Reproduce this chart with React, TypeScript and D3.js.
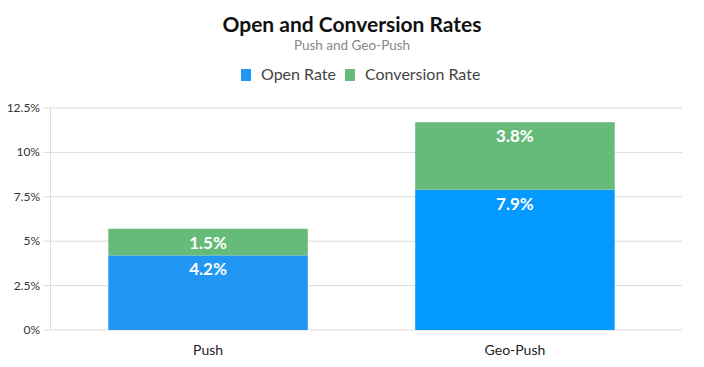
import * as d3 from "d3";
import { useEffect, useRef } from "react";

const categories = ["Push", "Geo-Push"];
const seriesNames = ["Open Rate", "Conversion Rate"];
const openRate = [4.2, 7.9];
const conversionRate = [1.5, 3.8];
const yTicks = [0, 2.5, 5, 7.5, 10, 12.5];

const openColors = ["#2196F3", "#0399FE"];
const convColor = "#66BB7A";
const legendColors = ["#2196F3", "#66BB7A"];

const W = 704;
const H = 367;

export default function App() {
  const ref = useRef<SVGSVGElement>(null);

  useEffect(() => {
    const svg = d3.select(ref.current);
    svg.selectAll("*").remove();
    const font = "Lato, 'Open Sans', sans-serif";

    const x = d3.scaleBand().domain(categories).range([50, 673]).paddingInner(0.35).paddingOuter(0.19);
    const y = d3.scaleLinear().domain([0, 12.5]).range([330, 108]);

    // title
    svg.append("text").attr("x", 352).attr("y", 32).attr("text-anchor", "middle")
      .style("font-family", font).style("font-size", "21px").style("font-weight", 700)
      .attr("fill", "#111").text("Open and Conversion Rates");
    svg.append("text").attr("x", 352).attr("y", 50).attr("text-anchor", "middle")
      .style("font-family", font).style("font-size", "13.5px")
      .attr("fill", "#888").text("Push and Geo-Push");

    // legend
    const lg = svg.append("g").style("font-family", font).style("font-size", "16px");
    let lx = 241;
    seriesNames.forEach((name, i) => {
      lg.append("rect").attr("x", lx).attr("y", 69).attr("width", 10).attr("height", 12).attr("fill", legendColors[i]);
      const t = lg.append("text").attr("x", lx + 20).attr("y", 80).attr("fill", "#444").text(name);
      const w = (t.node() as SVGTextElement).getComputedTextLength();
      lx += 20 + w + 9;
    });

    // grid
    const grid = svg.append("g");
    yTicks.forEach((t) => {
      grid.append("line").attr("x1", 43).attr("x2", 682).attr("y1", y(t)).attr("y2", y(t))
        .attr("stroke", "#dcdcdc").attr("stroke-width", 1);
      grid.append("text").attr("x", 40).attr("y", y(t) + 4).attr("text-anchor", "end")
        .style("font-family", font).style("font-size", "12px").attr("fill", "#333")
        .text(`${t}%`);
    });
    svg.append("line").attr("x1", 50.5).attr("x2", 50.5).attr("y1", y(12.5)).attr("y2", y(0))
      .attr("stroke", "#dcdcdc");

    // bars
    categories.forEach((c, i) => {
      const bx = x(c)!;
      const bw = x.bandwidth();
      const o = openRate[i];
      const cv = conversionRate[i];
      svg.append("rect").attr("x", bx).attr("width", bw).attr("y", y(o)).attr("height", y(0) - y(o))
        .attr("fill", openColors[i]);
      svg.append("rect").attr("x", bx).attr("width", bw).attr("y", y(o + cv)).attr("height", y(o) - y(o + cv))
        .attr("fill", convColor);
      [[o, o], [o + cv, cv]].forEach(([top, v]) => {
        svg.append("text").attr("x", bx + bw / 2).attr("y", y(top) + 20).attr("text-anchor", "middle")
          .style("font-family", font).style("font-size", "17px").style("font-weight", 700)
          .attr("fill", "#fff").text(`${v}%`);
      });
      svg.append("text").attr("x", bx + bw / 2).attr("y", 355).attr("text-anchor", "middle")
        .style("font-family", font).style("font-size", "14px").attr("fill", "#222").text(c);
    });
  }, []);

  return (
    <svg ref={ref} width={W} height={H} style={{ position: "absolute", left: 0, top: 0, background: "#fff" }} />
  );
}
